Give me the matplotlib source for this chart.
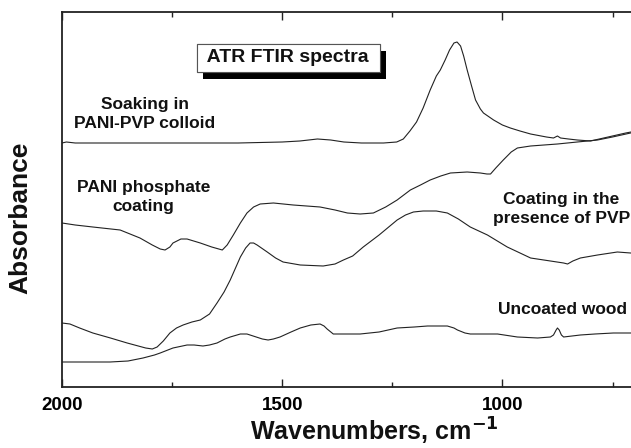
import matplotlib
matplotlib.use("Agg")
import matplotlib.pyplot as plt
import matplotlib.patheffects as pe
from matplotlib import font_manager
from matplotlib.ticker import FixedLocator

# Espectros ATR FTIR (unidades arbitrarias, curvas desplazadas)
wn_soak = [2000, 1990, 1970, 1900, 1800, 1700, 1600, 1500, 1460, 1420, 1390, 1360, 1320, 1270,
           1240, 1225, 1210, 1195, 1180, 1164, 1150, 1141, 1130, 1120, 1110, 1103, 1095, 1088,
           1080, 1070, 1061, 1050, 1043, 1020, 1000, 982, 960, 936, 900, 884, 875, 868, 850,
           830, 800, 780, 760, 740, 720, 708]
abs_soak = [244, 245, 244, 244, 244, 244, 244, 245, 246, 248, 247, 245, 244, 244,
            245, 248, 256, 265, 279, 297, 311, 317, 327, 337, 344, 345, 341, 331,
            317, 301, 287, 278, 274, 267, 262, 259, 256, 253, 250, 249, 251, 249, 248,
            247, 246, 248, 250, 252, 254, 255]

wn_phos = [2000, 1970, 1930, 1868, 1823, 1795, 1777, 1766, 1755, 1748, 1730, 1716, 1686, 1660,
           1636, 1625, 1611, 1595, 1580, 1565, 1550, 1520, 1475, 1414, 1380, 1352, 1323, 1293,
           1265, 1239, 1209, 1186, 1164, 1140, 1118, 1080, 1050, 1035, 1027, 1015, 998, 980,
           966, 936, 875, 830, 784, 750, 709]
abs_phos = [164, 162, 160, 157, 149, 142, 138, 137, 140, 144, 148, 148, 144, 140,
            137, 142, 152, 164, 174, 180, 183, 184, 182, 180, 177, 174, 173, 174,
            180, 187, 197, 202, 207, 211, 214, 215, 214, 213, 213, 219, 227, 235,
            239, 241, 243, 245, 247, 250, 254]

wn_pvp = [2000, 1982, 1960, 1930, 1890, 1852, 1810, 1795, 1784, 1770, 1755, 1740, 1725, 1705,
          1686, 1665, 1648, 1632, 1618, 1605, 1595, 1583, 1573, 1565, 1557, 1534, 1515, 1498,
          1459, 1407, 1380, 1361, 1340, 1316, 1280, 1239, 1220, 1202, 1180, 1150, 1125, 1100,
          1073, 1034, 989, 960, 936, 891, 861, 852, 840, 823, 784, 739, 709]
abs_pvp = [64, 63, 59, 54, 49, 44, 39, 38, 40, 46, 54, 59, 62, 65,
           67, 73, 84, 95, 107, 120, 130, 139, 144, 144, 142, 135, 129, 125,
           122, 121, 123, 127, 131, 140, 152, 167, 172, 175, 176, 176, 174, 168,
           160, 152, 140, 134, 129, 126, 124, 123, 126, 129, 132, 135, 134]

wn_wood = [2000, 1966, 1891, 1850, 1816, 1790, 1777, 1748, 1716, 1700, 1680, 1665, 1648, 1630,
           1618, 1595, 1580, 1566, 1545, 1532, 1520, 1505, 1480, 1459, 1435, 1414, 1405, 1398,
           1384, 1350, 1323, 1280, 1239, 1200, 1170, 1140, 1125, 1110, 1102, 1085, 1073, 1011,
           966, 920, 891, 884, 878, 875, 871, 866, 861, 823, 790, 748, 709]
abs_wood = [25, 25, 25, 26, 29, 32, 34, 39, 42, 42, 41, 42, 44, 48,
            50, 53, 53, 51, 48, 47, 48, 50, 55, 59, 62, 63, 61, 58,
            53, 53, 53, 55, 59, 60, 61, 61, 61, 59, 57, 54, 53, 53,
            50, 49, 50, 52, 57, 59, 57, 52, 50, 52, 53, 54, 54]

tick_major = [2000, 1500, 1000]
tick_minor = [1750, 1250, 750]

# Fuentes
nombres = {f.name for f in font_manager.fontManager.ttflist}
fuente = 'Liberation Sans'
fuente_eje = 'Liberation Sans Narrow' if 'Liberation Sans Narrow' in nombres else 'Liberation Sans'
tam_eje = 21 if fuente_eje == 'Liberation Sans Narrow' else 18
plt.rcParams.update({'font.family': fuente, 'font.weight': 'bold'})

fig = plt.figure(figsize=(6.31, 4.48), dpi=100)
ax = fig.add_axes([62 / 631, 61 / 448, 1 - 62 / 631, 375 / 448])

color = '#222222'
for wn, ab in [(wn_soak, abs_soak), (wn_phos, abs_phos), (wn_pvp, abs_pvp), (wn_wood, abs_wood)]:
    ax.plot(wn, ab, color=color, lw=0.8)

ax.set_xlim(2000, 708)
ax.set_ylim(0, 375)
ax.set_yticks([])
ax.xaxis.set_major_locator(FixedLocator(tick_major))
ax.xaxis.set_minor_locator(FixedLocator(tick_minor))
ax.tick_params(axis='x', which='both', direction='in', top=True, width=1.0, color='#222222')
ax.tick_params(axis='x', which='major', length=6, pad=7.5, labelsize=13.5)
ax.tick_params(axis='x', which='minor', length=3.5)
for lab in ax.get_xticklabels():
    lab.set_fontweight('bold')
for s in ['left', 'bottom', 'top']:
    ax.spines[s].set_linewidth(1.3)
    ax.spines[s].set_color('#222222')
ax.spines['right'].set_visible(False)

# Etiquetas de los ejes
fig.text(20 / 631, 0.513, 'Absorbance', rotation=90, ha='center', va='center',
         fontsize=tam_eje + 1, fontweight='bold', family=fuente_eje, color='#111111')
fig.text(0.5935, 7 / 448, r'Wavenumbers, cm$^{\mathbf{-1}}$', ha='center', va='baseline',
         fontsize=tam_eje, fontweight='bold', family=fuente_eje, color='#111111')

# Anotaciones
kw = dict(ha='center', va='center', fontsize=12.5, fontweight='bold', linespacing=1.35,
          color='#111111')
ax.text(1812, 273, 'Soaking in\nPANI-PVP colloid', **kw)
ax.text(1815, 190, 'PANI phosphate\ncoating', **kw)
ax.text(866, 178, 'Coating in the\npresence of PVP', **kw)
ax.text(864, 78, 'Uncoated wood', **kw)

t = ax.text(1486, 329, ' ATR FTIR spectra ', ha='center', va='center', fontsize=14,
            fontweight='bold', color='#111111',
            bbox=dict(boxstyle='square,pad=0.28', fc='white', ec='#555555', lw=0.8))
t.get_bbox_patch().set_path_effects([
    pe.withSimplePatchShadow(offset=(4.3, -5), shadow_rgbFace='black', alpha=1.0),
    pe.Normal()])

fig.savefig('out.png', dpi=100)
